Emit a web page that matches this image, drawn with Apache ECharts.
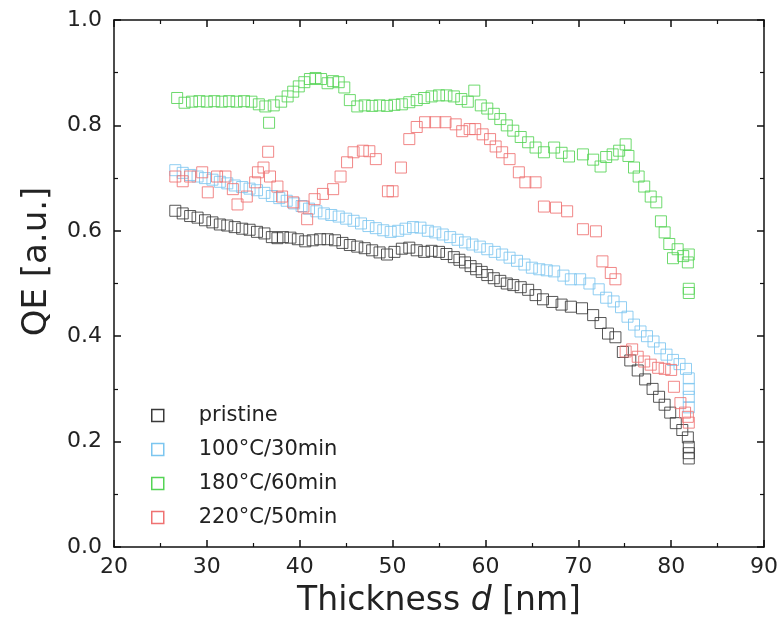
<!DOCTYPE html>
<html>
<head>
<meta charset="utf-8">
<script src="https://cdn.jsdelivr.net/npm/echarts@6/dist/echarts.min.js"></script>
<style>
  html, body { margin: 0; padding: 0; background: #fff; }
  #chart { width: 781px; height: 632px; }
</style>
</head>
<body>
<div id="chart"></div>
<script>
// QE vs thickness
const seriesNames = ['pristine', '100°C/30min', '180°C/60min', '220°C/50min'];
const seriesColors = ['#3a3a3a', '#7cc6f0', '#55d455', '#ef7272'];

const pristine = [
  [26.6, 0.638], [27.4, 0.633], [28.2, 0.628], [29.0, 0.625], [29.8, 0.62], [30.6, 0.616],
  [31.4, 0.612], [32.2, 0.61], [33.0, 0.607], [33.8, 0.604], [34.6, 0.602], [35.4, 0.598],
  [36.2, 0.595], [37.0, 0.588], [37.6, 0.586], [38.2, 0.588], [39.0, 0.587], [39.8, 0.584],
  [40.6, 0.58], [41.4, 0.582], [42.2, 0.584], [43.0, 0.584], [43.8, 0.582], [44.6, 0.577],
  [45.4, 0.573], [46.2, 0.57], [47.0, 0.567], [47.8, 0.563], [48.6, 0.559], [49.4, 0.555],
  [50.2, 0.56], [51.0, 0.566], [51.8, 0.568], [52.6, 0.563], [53.4, 0.56], [54.2, 0.562],
  [55.0, 0.56], [55.8, 0.556], [56.6, 0.55], [57.2, 0.545], [57.8, 0.54], [58.4, 0.533],
  [59.0, 0.527], [59.6, 0.522], [60.2, 0.516], [60.9, 0.51], [61.6, 0.505], [62.3, 0.5],
  [63.0, 0.497], [63.8, 0.493], [64.6, 0.488], [65.4, 0.478], [66.2, 0.47], [67.2, 0.465],
  [68.2, 0.46], [69.2, 0.456], [70.4, 0.453], [71.6, 0.44], [72.4, 0.425], [73.2, 0.405],
  [74.0, 0.398], [74.8, 0.37], [75.6, 0.354], [76.4, 0.335], [77.2, 0.318], [78.0, 0.3],
  [78.7, 0.285], [79.3, 0.27], [79.9, 0.255], [80.5, 0.235], [81.2, 0.222], [81.8, 0.208],
  [81.9, 0.19], [81.9, 0.178], [81.9, 0.168]
];

const anneal100 = [
  [26.6, 0.715], [27.4, 0.71], [28.2, 0.706], [29.0, 0.703], [29.8, 0.7], [30.6, 0.697],
  [31.4, 0.693], [32.2, 0.69], [33.0, 0.686], [33.8, 0.683], [34.6, 0.68], [35.4, 0.677],
  [36.2, 0.672], [37.0, 0.666], [37.8, 0.662], [38.6, 0.657], [39.4, 0.652], [40.2, 0.647],
  [41.0, 0.642], [41.8, 0.637], [42.6, 0.633], [43.4, 0.63], [44.2, 0.627], [45.0, 0.623],
  [45.8, 0.619], [46.6, 0.614], [47.4, 0.609], [48.2, 0.605], [49.0, 0.601], [49.8, 0.598],
  [50.6, 0.6], [51.4, 0.604], [52.2, 0.607], [53.0, 0.606], [53.8, 0.6], [54.6, 0.597],
  [55.4, 0.593], [56.2, 0.588], [57.0, 0.583], [57.8, 0.578], [58.6, 0.574], [59.4, 0.57],
  [60.2, 0.565], [61.0, 0.56], [61.8, 0.555], [62.6, 0.549], [63.4, 0.543], [64.2, 0.536],
  [65.0, 0.53], [65.8, 0.527], [66.6, 0.525], [67.4, 0.523], [68.4, 0.515], [69.2, 0.508],
  [70.2, 0.508], [71.2, 0.5], [72.2, 0.489], [73.0, 0.473], [73.8, 0.466], [74.6, 0.455],
  [75.3, 0.437], [76.0, 0.422], [76.7, 0.409], [77.4, 0.4], [78.1, 0.39], [78.8, 0.377],
  [79.5, 0.365], [80.2, 0.355], [80.9, 0.347], [81.6, 0.338], [81.9, 0.32], [81.9, 0.3],
  [81.9, 0.285], [81.9, 0.265]
];

const anneal180 = [
  [26.8, 0.852], [27.6, 0.843], [28.4, 0.845], [29.2, 0.846], [30.0, 0.845], [30.8, 0.846],
  [31.6, 0.845], [32.4, 0.846], [33.2, 0.845], [34.0, 0.846], [34.8, 0.845], [35.6, 0.84],
  [36.3, 0.836], [36.7, 0.805], [37.2, 0.838], [38.0, 0.845], [38.7, 0.855], [39.3, 0.864],
  [39.9, 0.874], [40.5, 0.882], [41.1, 0.888], [41.7, 0.89], [42.3, 0.888], [43.0, 0.88],
  [43.6, 0.884], [44.2, 0.882], [44.8, 0.872], [45.4, 0.848], [46.2, 0.836], [47.0, 0.838],
  [47.8, 0.837], [48.6, 0.838], [49.4, 0.837], [50.2, 0.839], [51.0, 0.84], [51.8, 0.844],
  [52.6, 0.848], [53.4, 0.852], [54.2, 0.855], [55.0, 0.857], [55.8, 0.857], [56.6, 0.855],
  [57.4, 0.85], [58.1, 0.845], [58.8, 0.866], [59.5, 0.838], [60.2, 0.832], [60.9, 0.822],
  [61.6, 0.812], [62.3, 0.8], [63.0, 0.79], [63.8, 0.778], [64.6, 0.768], [65.4, 0.758],
  [66.3, 0.749], [67.4, 0.758], [68.2, 0.748], [69.0, 0.741], [70.5, 0.745], [71.6, 0.735],
  [72.4, 0.722], [73.0, 0.74], [73.7, 0.745], [74.4, 0.752], [75.1, 0.764], [75.4, 0.742],
  [76.0, 0.72], [76.5, 0.703], [77.1, 0.684], [77.8, 0.665], [78.4, 0.654], [78.9, 0.618],
  [79.3, 0.597], [79.8, 0.575], [80.2, 0.548], [80.7, 0.565], [81.3, 0.552], [81.8, 0.54],
  [81.9, 0.555], [81.9, 0.49], [81.9, 0.482]
];

const anneal220 = [
  [26.6, 0.703], [27.4, 0.694], [28.2, 0.703], [29.5, 0.711], [30.1, 0.673], [31.1, 0.703],
  [32.0, 0.703], [32.8, 0.679], [33.3, 0.65], [34.3, 0.665], [35.2, 0.692], [35.5, 0.711],
  [36.1, 0.72], [36.6, 0.75], [36.8, 0.703], [37.6, 0.684], [38.1, 0.665], [39.3, 0.654],
  [40.4, 0.646], [40.8, 0.622], [41.6, 0.66], [42.5, 0.67], [43.6, 0.679], [44.4, 0.703],
  [45.1, 0.73], [45.8, 0.749], [46.8, 0.752], [47.5, 0.751], [48.2, 0.736], [49.5, 0.675],
  [50.0, 0.675], [50.9, 0.72], [51.8, 0.774], [52.6, 0.797], [53.5, 0.806], [54.6, 0.806],
  [55.7, 0.806], [56.8, 0.802], [57.5, 0.789], [58.3, 0.793], [58.9, 0.793], [59.7, 0.783],
  [60.5, 0.774], [61.1, 0.76], [61.8, 0.749], [62.6, 0.736], [63.6, 0.711], [64.3, 0.692],
  [65.4, 0.692], [66.3, 0.646], [67.6, 0.644], [68.8, 0.637], [70.5, 0.603], [71.9, 0.599],
  [72.6, 0.542], [73.5, 0.52], [74.0, 0.508], [75.1, 0.371], [75.8, 0.375], [76.4, 0.361],
  [77.1, 0.352], [77.8, 0.346], [78.6, 0.34], [79.3, 0.338], [80.0, 0.336], [80.3, 0.304],
  [81.0, 0.273], [81.5, 0.255], [81.8, 0.247], [81.9, 0.236]
];

const seriesData = [pristine, anneal100, anneal180, anneal220];

const FONT = '"DejaVu Sans", "Liberation Sans", Arial, sans-serif';
const chart = echarts.init(document.getElementById('chart'));

const frameAxis = {
  axisLine: { show: true, onZero: false, lineStyle: { color: '#111', width: 1.5 } },
  axisTick: { show: true, inside: true, length: 7, lineStyle: { color: '#111', width: 1.5 } },
  minorTick: { show: true, splitNumber: 2, length: 4, lineStyle: { color: '#111', width: 1.2 } },
  splitLine: { show: false },
};

chart.setOption({
  animation: false,
  backgroundColor: '#fff',
  grid: { left: 114, right: 17, top: 20, bottom: 85, containLabel: false },
  legend: {
    orient: 'vertical',
    left: 146,
    top: 400,
    itemWidth: 12,
    itemHeight: 12,
    itemGap: 13,
    textStyle: { fontFamily: FONT, fontSize: 21, color: '#222', padding: [0, 0, 0, 30] },
    data: seriesNames.map((name, i) => ({
      name: name,
      icon: 'rect',
      itemStyle: { color: 'transparent', borderColor: seriesColors[i], borderWidth: 1.5, opacity: 1 },
    })),
  },
  xAxis: [
    Object.assign({}, frameAxis, {
      type: 'value', min: 20, max: 90, interval: 10, position: 'bottom',
      name: '{n|Thickness }{i|d}{n| [nm]}',
      nameLocation: 'middle', nameGap: 38,
      nameTextStyle: {
        rich: {
          n: { fontFamily: FONT, fontSize: 33, color: '#222' },
          i: { fontFamily: FONT, fontSize: 33, color: '#222', fontStyle: 'italic' },
        },
      },
      axisLabel: { fontFamily: FONT, fontSize: 22, color: '#222', margin: 9 },
    }),
    Object.assign({}, frameAxis, {
      type: 'value', min: 20, max: 90, interval: 10, position: 'top',
      axisLabel: { show: false },
    }),
  ],
  yAxis: [
    Object.assign({}, frameAxis, {
      type: 'value', min: 0, max: 1, interval: 0.2, position: 'left',
      name: 'QE [a.u.]',
      nameLocation: 'middle', nameGap: 60,
      nameTextStyle: { fontFamily: FONT, fontSize: 34, color: '#222', padding: [0, 0, 0, 44] },
      axisLabel: {
        fontFamily: FONT, fontSize: 22, color: '#222', margin: 12,
        formatter: (v) => v.toFixed(1),
      },
    }),
    Object.assign({}, frameAxis, {
      type: 'value', min: 0, max: 1, interval: 0.2, position: 'right',
      axisLabel: { show: false },
    }),
  ],
  series: seriesData.map((data, i) => ({
    name: seriesNames[i],
    type: 'scatter',
    symbol: 'rect',
    symbolSize: 11,
    data: data,
    itemStyle: {
      color: 'transparent',
      borderColor: seriesColors[i],
      borderWidth: 1,
      opacity: 0.85,
    },
  })),
});
</script>
</body>
</html>
